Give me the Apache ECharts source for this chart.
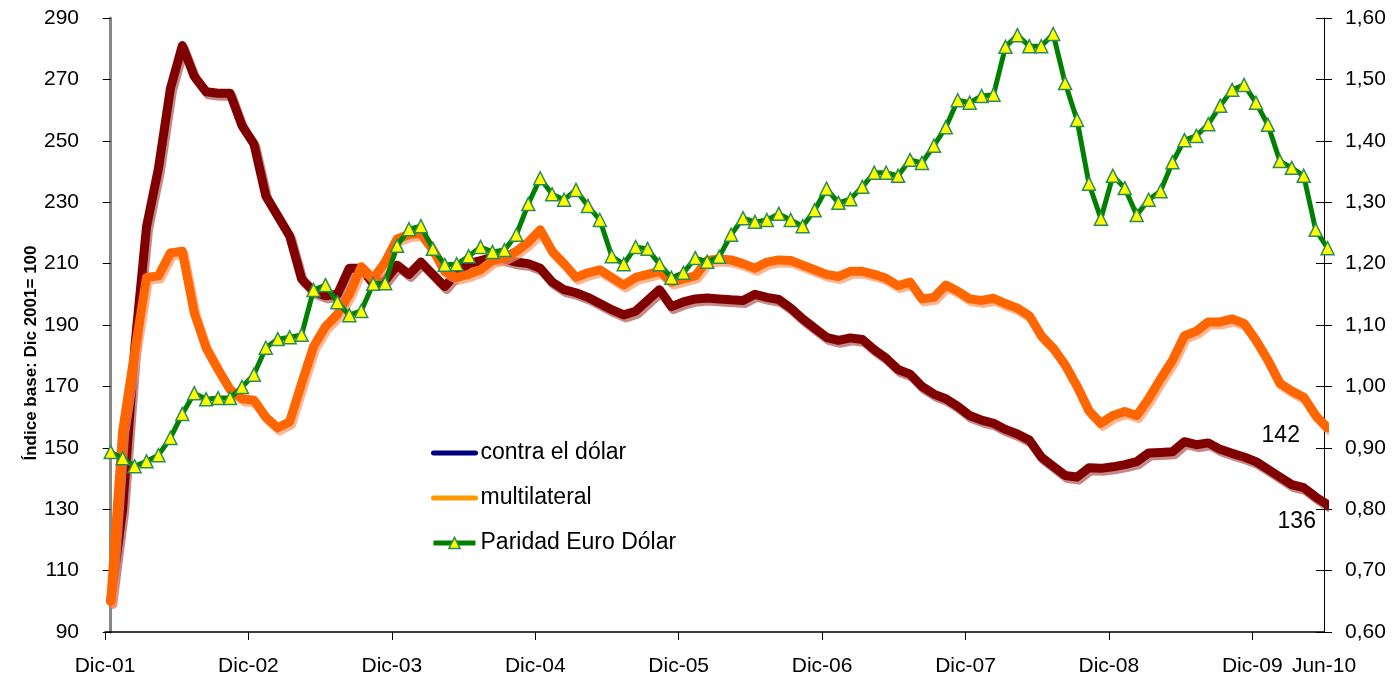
<!DOCTYPE html>
<html>
<head>
<meta charset="utf-8">
<script src="https://cdn.jsdelivr.net/npm/echarts@6/dist/echarts.min.js"></script>
<style>
  html, body { margin: 0; padding: 0; background: #fff; }
  #chart { width: 1394px; height: 681px; }
</style>
</head>
<body>
<div id="chart"></div>
<script>
// months Dic-01 .. Jun-10 (103 points)
var monthNames = ['Ene','Feb','Mar','Abr','May','Jun','Jul','Ago','Sep','Oct','Nov','Dic'];
var months = ['Dic-01'];
for (var y = 2; y <= 10; y++) {
  for (var m = 0; m < 12; m++) {
    if (y === 10 && m > 5) break;
    months.push(monthNames[m] + '-' + (y < 10 ? '0' + y : y));
  }
}

// tipo de cambio real contra el dólar (Dic 2001 = 100)
var contraDolar = [
  100, 130, 182, 222, 241, 267, 281, 271, 266, 265.5, 265.5, 255,
  249, 232, 225.5, 219, 205, 201, 199.5, 200, 208.5, 208.5, 203.5, 204.5,
  209.5, 206.5, 210.5, 206.5, 202.5, 207, 210, 211, 212, 211.5, 210.5, 210,
  208.5, 204, 201.5, 200.5, 199, 197, 195, 193.3, 194.5, 198, 201.5, 196,
  197.5, 198.5, 198.8, 198.5, 198.2, 198, 200, 199, 198.3, 195.5, 192, 189,
  186, 185, 185.8, 185.3, 182, 179.2, 175.5, 174, 170, 167.5, 166, 163.5,
  160.5, 159, 158, 156, 154.5, 152.5, 147, 144, 141, 140.5, 143.5, 143.3,
  143.8, 144.5, 145.5, 148.3, 148.5, 148.7, 152, 151, 151.6, 149.5, 148.2, 147,
  145.5, 143, 140.5, 138, 137, 134, 131.5
];

// tipo de cambio real multilateral (Dic 2001 = 100)
var multilateral = [
  100, 155.5, 181, 205.5, 206, 213.5, 214, 194, 182.5, 175.5, 169, 166,
  165.5, 160, 156.5, 158.5, 171, 183, 189.5, 193.5, 200, 209, 205, 210.5,
  218, 219.5, 219.8, 214.5, 207.5, 205.5, 206.5, 208, 211, 212, 214, 217,
  221, 214, 210, 205.5, 207, 208, 205.5, 203, 205.5, 206.5, 207.5, 204,
  205, 206, 211, 211.5, 211.2, 210, 208.5, 210.5, 211.2, 211, 209.5, 208,
  206.5, 205.8, 207.5, 207.5, 206.5, 205.2, 202.8, 204, 198.5, 199, 203, 201,
  198.5, 198, 198.7, 197, 195.5, 193, 186.5, 182.5, 177, 170, 162, 158,
  160.5, 161.8, 160.5, 166, 172.5, 178.5, 186.5, 188, 191, 191, 192, 190.5,
  185, 178.5, 171, 168.5, 166.5, 160.5, 156.5
];

// paridad euro / dólar (eje derecho)
var paridad = [
  0.893, 0.883, 0.870, 0.878, 0.888, 0.916, 0.955, 0.989, 0.979, 0.981, 0.981, 0.999,
  1.019, 1.063, 1.077, 1.080, 1.084, 1.157, 1.165, 1.137, 1.116, 1.123, 1.167, 1.168,
  1.229, 1.256, 1.261, 1.224, 1.198, 1.199, 1.212, 1.227, 1.219, 1.222, 1.247, 1.297,
  1.339, 1.313, 1.304, 1.320, 1.294, 1.271, 1.212, 1.199, 1.227, 1.224, 1.199, 1.177,
  1.185, 1.209, 1.203, 1.211, 1.247, 1.274, 1.268, 1.271, 1.281, 1.271, 1.261, 1.287,
  1.322, 1.299, 1.305, 1.325, 1.348, 1.348, 1.343, 1.369, 1.364, 1.392, 1.422, 1.466,
  1.462, 1.473, 1.475, 1.553, 1.572, 1.554, 1.554, 1.574, 1.494, 1.434, 1.330, 1.273,
  1.343, 1.323, 1.279, 1.304, 1.318, 1.365, 1.401, 1.408, 1.427, 1.457, 1.483, 1.491,
  1.462, 1.426, 1.367, 1.356, 1.343, 1.255, 1.225
];

// etiquetas al final de las series
var endLabelDolar = '136';
var endLabelMulti = '142';

var font = 'Arial, "Liberation Sans", sans-serif';

function pairs(arr) {
  return arr.map(function (v, i) { return [i, v]; });
}

function endLabel(text, offset) {
  return {
    show: true,
    formatter: text,
    distance: 0,
    offset: offset,
    fontSize: 23,
    color: '#000',
    fontFamily: font
  };
}

var chart = echarts.init(document.getElementById('chart'));
chart.setOption({
  backgroundColor: '#fff',
  animation: false,
  grid: { left: 105, right: 70, top: 18, bottom: 49 },
  legend: {
    orient: 'vertical',
    left: 431,
    top: 441,
    padding: 0,
    itemWidth: 42,
    itemHeight: 14,
    itemGap: 21,
    textStyle: { fontSize: 23, color: '#000', fontFamily: font, lineHeight: 24 },
    data: [
      { name: 'contra el dólar', itemStyle: { opacity: 0 }, lineStyle: { color: '#000080', width: 5 } },
      { name: 'multilateral', itemStyle: { opacity: 0 }, lineStyle: { color: '#FF9900', width: 5 } },
      { name: 'Paridad Euro Dólar', itemStyle: { color: '#FFFF00', borderColor: '#2E8B57', borderWidth: 1.5 }, lineStyle: { color: '#008000', width: 5 } }
    ]
  },
  graphic: [{
    type: 'text',
    x: 31,
    y: 353,
    rotation: Math.PI / 2,
    style: {
      text: 'Índice base: Dic 2001= 100',
      font: 'bold 17px ' + font,
      fill: '#000',
      textAlign: 'center',
      textVerticalAlign: 'middle'
    }
  }],
  xAxis: [
    {
      type: 'value',
      min: -0.48,
      max: 101.7,
      show: false
    },
    {
      type: 'category',
      data: months,
      boundaryGap: false,
      position: 'bottom',
      axisLine: { lineStyle: { color: '#000', width: 1.5 } },
      axisTick: {
        length: 8,
        interval: function (i) { return i % 12 === 0; },
        lineStyle: { color: '#000' }
      },
      axisLabel: {
        interval: function (i) { return i % 12 === 0 || i === months.length - 1; },
        margin: 24,
        fontSize: 21,
        color: '#000',
        fontFamily: font
      },
      splitLine: { show: false }
    }
  ],
  yAxis: [
    {
      type: 'value',
      min: 90,
      max: 290,
      interval: 20,
      position: 'left',
      axisLine: { show: true, lineStyle: { color: '#888', width: 3 } },
      axisTick: { show: true, length: 8, lineStyle: { color: '#000' } },
      axisLabel: { margin: 26, fontSize: 21, color: '#000', fontFamily: font },
      splitLine: { show: false }
    },
    {
      type: 'value',
      min: 0.6,
      max: 1.6,
      interval: 0.1,
      position: 'right',
      axisLine: { show: true, lineStyle: { color: '#000', width: 1 } },
      axisTick: { show: true, length: 8, lineStyle: { color: '#000' } },
      axisLabel: {
        margin: 21, fontSize: 21, color: '#000', fontFamily: font,
        formatter: function (v) { return v.toFixed(2).replace('.', ','); }
      },
      splitLine: { show: false }
    },
    {
      type: 'value',
      min: 0.6,
      max: 1.6,
      interval: 0.1,
      position: 'right',
      axisLine: { show: false },
      axisTick: { show: true, inside: true, length: 8, lineStyle: { color: '#000' } },
      axisLabel: { show: false },
      splitLine: { show: false }
    }
  ],
  series: [
    {
      name: 'contra el dólar',
      type: 'line',
      xAxisIndex: 0,
      yAxisIndex: 0,
      data: pairs(contraDolar),
      symbol: 'none',
      clip: false,
      color: '#800000',
      lineStyle: {
        color: '#800000', width: 9, cap: 'round', join: 'round',
        shadowColor: 'rgba(150,40,40,0.55)', shadowOffsetX: 2, shadowOffsetY: 3
      },
      endLabel: endLabel(endLabelDolar, [-50, 17]),
      z: 2
    },
    {
      name: 'multilateral',
      type: 'line',
      xAxisIndex: 0,
      yAxisIndex: 0,
      data: pairs(multilateral),
      symbol: 'none',
      clip: false,
      color: '#FF6600',
      lineStyle: {
        color: '#FF6600', width: 9, cap: 'round', join: 'round',
        shadowColor: 'rgba(255,150,100,0.7)', shadowOffsetX: 2, shadowOffsetY: 3
      },
      endLabel: endLabel(endLabelMulti, [-66, 8]),
      z: 3
    },
    {
      name: 'Paridad Euro Dólar',
      type: 'line',
      xAxisIndex: 0,
      yAxisIndex: 1,
      data: pairs(paridad),
      symbol: 'triangle',
      symbolSize: 13,
      clip: false,
      color: '#008000',
      itemStyle: { color: '#FFFF00', borderColor: '#2E8B57', borderWidth: 1.5 },
      lineStyle: { color: '#008000', width: 5 },
      z: 4
    }
  ]
});
</script>
</body>
</html>
